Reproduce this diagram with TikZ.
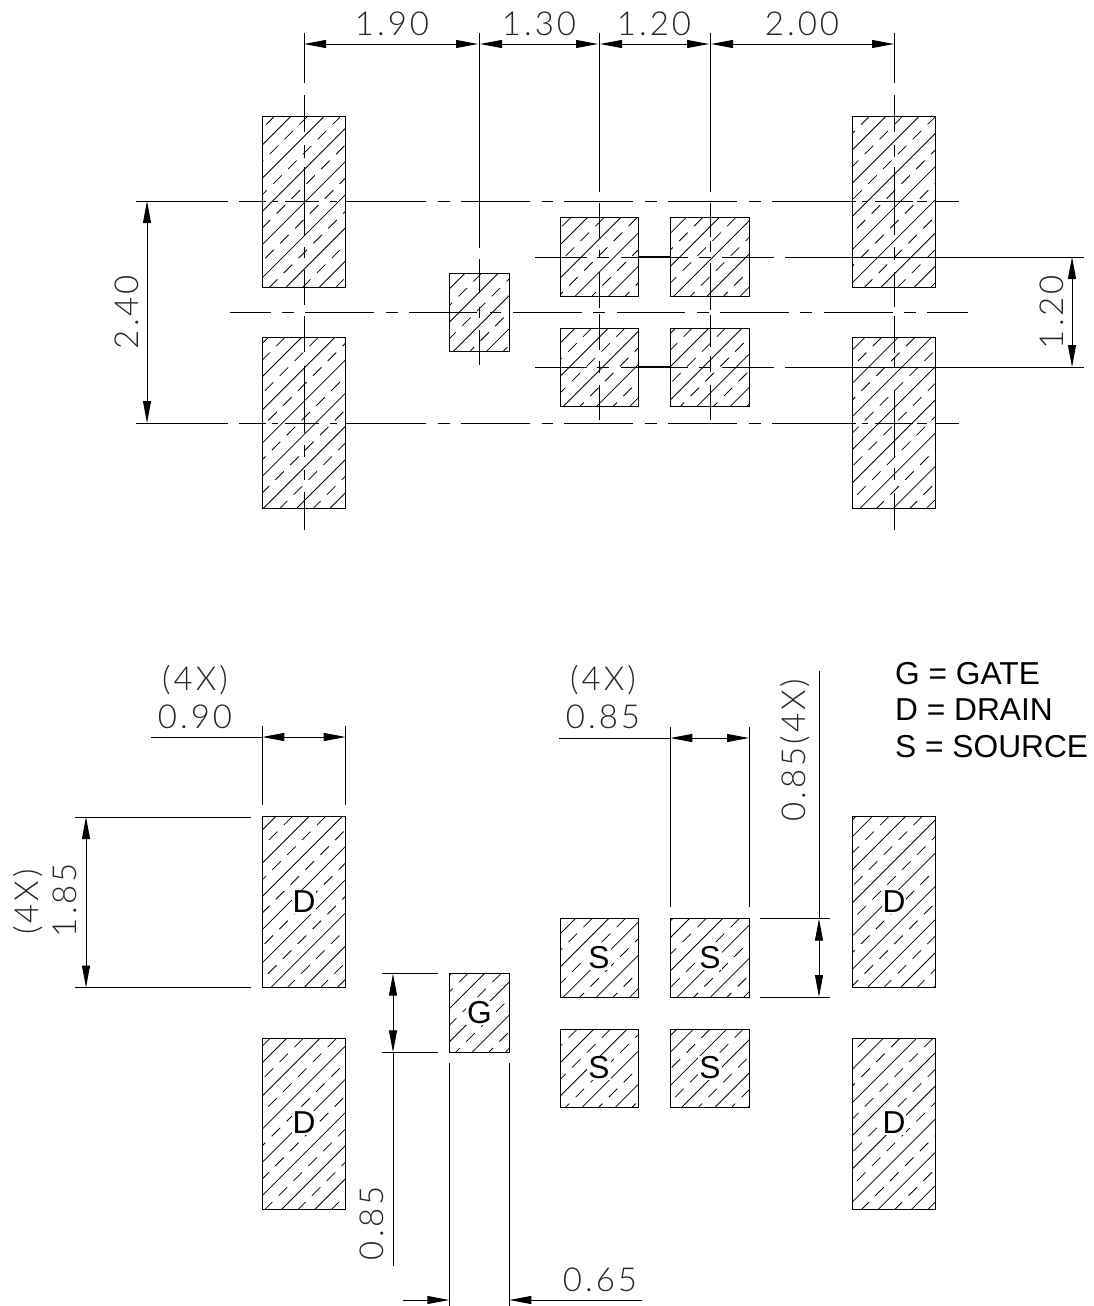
\documentclass[tikz,border=0pt]{standalone}
\usepackage{fontspec}
\setmainfont{Liberation Sans}
\newfontfamily\dimfont{Lato Light}[LetterSpace=9]
\usetikzlibrary{arrows.meta}
\tikzset{
	part/.style={line width=1pt, black},
	hatchsolid/.style={line width=0.8pt, black},
	hatchdash/.style={line width=0.8pt, black, dash pattern=on 12pt off 9pt},
	dimline/.style={line width=0.95pt, black},
	dimarrow/.style={dimline, {Triangle[length=22pt,width=8pt]}-{Triangle[length=22pt,width=8pt]}},
	dimtip/.style={dimline, -{Triangle[length=22pt,width=8pt]}},
	dimtext/.style={font=\fontsize{33}{33}\selectfont\dimfont, inner sep=0pt, text=black!85},
	padtext/.style={font=\fontsize{31.7}{31.7}\selectfont, fill=white, inner sep=1pt},
	legendtext/.style={font=\fontsize{31.7}{31.7}\selectfont, inner sep=0pt, anchor=base west}
}
% one hatched pad: corners, then x+y of one solid hatch line
\newcommand{\hatchpad}[5]{
	\begin{scope}
		\clip (#1,#2) rectangle (#3,#4);
		\foreach \k in {-15,...,15} {
			\draw[hatchsolid] ({#5+33.2*\k-#2},#2) -- ({#5+33.2*\k-#4},#4);
			\draw[hatchdash] ({#5+33.2*\k+16.6-#2},#2) -- ({#5+33.2*\k+16.6-#4},#4);
		}
	\end{scope}
	\draw[part] (#1,#2) rectangle (#3,#4);
}
\begin{document}
\begin{tikzpicture}[x=1pt, y=-1pt]
	\useasboundingbox (0,0) rectangle (1094,1306);

	% Upper view, pads
	\hatchpad{262.3}{116}{345.7}{287.3}{407.3}
	\hatchpad{262.3}{337.7}{345.7}{508.3}{639}
	\hatchpad{852.3}{116}{935.7}{287.3}{1002.3}
	\hatchpad{852.3}{337.7}{935.7}{508.3}{1235.6}
	\hatchpad{449.3}{273}{509.7}{351.7}{738.3}
	\hatchpad{560}{217.7}{638.3}{296}{805}
	\hatchpad{670.3}{217.7}{749}{296}{903.6}
	\hatchpad{560}{328.3}{638.3}{406.7}{903.3}
	\hatchpad{670.3}{328.3}{749}{406.7}{1037}

	% Upper view, horizontal centre lines
	\foreach \a/\b in {136/228,239/266,272/278,285/319,330/337,345/426,438/450,461/530,542/553,564/633,645/657,668/737,749/761,772/856,862/868,875/913,917/927,935/959} {
		\draw[dimline] (\a,201) -- (\b,201);
		\draw[dimline] (\a,423) -- (\b,423);
	}
	\foreach \a/\b in {230/271,282/294,305/374,386/398,409/477,490/501,513/582,593/605,617/685,697/709,720/789,800/812,824/893,904/916,927/968}
		\draw[dimline] (\a,312) -- (\b,312);
	\foreach \a/\b in {535/587,597/609,621/688,699/711,722/774,785/1084} {
		\draw[dimline] (\a,257) -- (\b,257);
		\draw[dimline] (\a,367) -- (\b,367);
	}
	\draw[dimline, line width=1.2pt] (638,257) -- (670,257);
	\draw[dimline, line width=1.2pt] (638,367) -- (670,367);

	% Upper view, vertical centre lines
	\foreach \a/\b in {33/83,95/132,145/158,167/235,247/258,270/305,316/352,366/433,445/457,470/480,492/530}
		\draw[dimline] (304,\a) -- (304,\b);
	\foreach \a/\b in {33/83,95/132,145/157,167/235,247/260,272/307,316/353,357/368,390/457,468/480,493/530}
		\draw[dimline] (894,\a) -- (894,\b);
	\foreach \a/\b in {33/248,259/293,307/318,330/365}
		\draw[dimline] (479,\a) -- (479,\b);
	\foreach \a/\b in {33/192,203/238,250/258,272/308,314/350,361/373,385/420}
		\draw[dimline] (599,\a) -- (599,\b);
	\foreach \a/\b in {33/192,203/237,241/252,263/310,315/347,356/372,385/420}
		\draw[dimline] (710,\a) -- (710,\b);

	% Upper view, dimensions
	\draw[dimarrow] (304,44) -- (478,44);
	\draw[dimarrow] (480,44) -- (598,44);
	\draw[dimarrow] (600,44) -- (709,44);
	\draw[dimarrow] (711,44) -- (894,44);
	\node[dimtext] (dimA) at (392,24) {1.90};
	\node[dimtext] (dimB) at (539,24) {1.30};
	\node[dimtext] (dimC) at (654,24) {1.20};
	\node[dimtext] (dimD) at (802,24) {2.00};
	\draw[dimarrow] (147,201) -- (147,423);
	\node[dimtext, rotate=90] (dimE) at (127,312) {2.40};
	\draw[dimarrow] (1072,257) -- (1072,367);
	\node[dimtext, rotate=90] (dimF) at (1052,312) {1.20};

	% Lower view, pads
	\hatchpad{262.3}{816.7}{345.7}{987.7}{1092.3}
	\hatchpad{262.3}{1038.7}{345.7}{1209.3}{1325}
	\hatchpad{852.3}{816.7}{935.7}{987.7}{1722}
	\hatchpad{852.3}{1038.7}{935.7}{1209.3}{1921.6}
	\hatchpad{449.3}{973.7}{509.7}{1052.3}{1458}
	\hatchpad{560}{918.7}{638.3}{997}{1494}
	\hatchpad{670.3}{918.7}{749}{997}{1608}
	\hatchpad{560}{1029.3}{638.3}{1107.7}{1623}
	\hatchpad{670.3}{1029.3}{749}{1107.7}{1722.6}

	\node[padtext] (drainA) at (304,902) {D};
	\node[padtext] (drainB) at (304,1123) {D};
	\node[padtext] (drainC) at (894,902) {D};
	\node[padtext] (drainD) at (894,1123) {D};
	\node[padtext] (gate) at (479.5,1013) {G};
	\node[padtext] (sourceA) at (599,958) {S};
	\node[padtext] (sourceB) at (710,958) {S};
	\node[padtext] (sourceC) at (599,1068) {S};
	\node[padtext] (sourceD) at (710,1068) {S};

	% Lower view, dimensions
	\node[dimtext] (countA) at (195,680) {(4X)};
	\node[dimtext] (dimG) at (195,717) {0.90};
	\draw[dimline] (151,737) -- (262.3,737);
	\draw[dimarrow] (262.3,737) -- (345.7,737);
	\draw[dimline] (262.3,726) -- (262.3,805);
	\draw[dimline] (345.7,726) -- (345.7,805);

	\draw[dimline] (75,817) -- (251,817);
	\draw[dimline] (75,987.5) -- (251,987.5);
	\draw[dimarrow] (86,817) -- (86,987.5);
	\node[dimtext, rotate=90] (countB) at (28,902) {(4X)};
	\node[dimtext, rotate=90] (dimH) at (65,900) {1.85};

	\node[dimtext] (countC) at (603,680) {(4X)};
	\node[dimtext] (dimI) at (603,717) {0.85};
	\draw[dimline] (559,738) -- (670.3,738);
	\draw[dimarrow] (670.3,738) -- (749,738);
	\draw[dimline] (670.3,727) -- (670.3,907);
	\draw[dimline] (749,727) -- (749,907);

	\draw[dimline] (819,671) -- (819,918.7);
	\draw[dimline] (760,918.7) -- (830,918.7);
	\draw[dimline] (760,997) -- (830,997);
	\draw[dimarrow] (819,918.7) -- (819,997);
	\node[dimtext, rotate=90] (dimJ) at (795,750) {0.85(4X)};

	\draw[dimline] (382,973.7) -- (438,973.7);
	\draw[dimline] (382,1052.3) -- (438,1052.3);
	\draw[dimarrow] (393,973.7) -- (393,1052.3);
	\draw[dimline] (393,1052.3) -- (393,1266);
	\node[dimtext, rotate=90] (dimK) at (372,1223) {0.85};

	\draw[dimline] (449.3,1063) -- (449.3,1306);
	\draw[dimline] (509.3,1063) -- (509.3,1306);
	\draw[dimtip] (403,1300) -- (449.3,1300);
	\draw[dimtip] (642,1300) -- (509.3,1300);
	\node[dimtext] (dimL) at (600,1280) {0.65};

	% Legend
	\node[legendtext] (legendG) at (895,684) {G = GATE};
	\node[legendtext] (legendD) at (895,720) {D = DRAIN};
	\node[legendtext] (legendS) at (895,757) {S = SOURCE};
\end{tikzpicture}
\end{document}
